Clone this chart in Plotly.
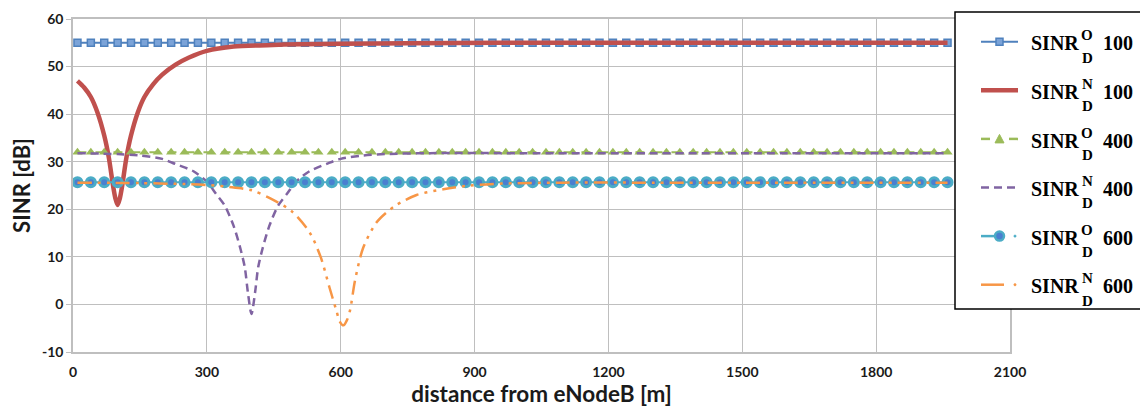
import plotly.graph_objects as go

# ---------------- data ----------------
X_MARK = list(range(10, 1961, 30))          # marker positions of the "O" series
SINR_O_100 = [55.0] * len(X_MARK)
SINR_O_400 = [32.0] * len(X_MARK)
SINR_O_600 = [25.7] * len(X_MARK)

X_N100 = [10, 25, 40, 55, 70, 80, 90, 95, 100, 105, 110, 120, 130, 145, 160, 180, 200,
          230, 260, 300, 360, 435, 510, 600, 750, 950, 1200, 1500, 1960]
SINR_N_100 = [47.0, 45.6, 43.6, 40.3, 35.5, 31.0, 24.8, 22.3, 20.9, 22.3, 24.8, 31.0, 35.5,
              40.3, 43.6, 46.3, 48.3, 50.4, 51.9, 53.3, 54.2, 54.5, 54.7, 54.8, 54.9, 55.0,
              55.0, 55.0, 55.0]

X_N400 = [10, 100, 150, 200, 230, 270, 300, 320, 340, 360, 375, 385, 392, 400, 408, 415,
          425, 440, 460, 480, 500, 530, 570, 600, 650, 700, 800, 1000, 1300, 1600, 1960]
SINR_N_400 = [31.8, 31.6, 31.3, 30.6, 29.5, 28.0, 25.8, 23.3, 20.8, 16.5, 11.8, 7.8, 2.5,
              -2.0, 2.5, 7.8, 11.8, 16.5, 20.8, 23.3, 25.8, 28.0, 29.6, 30.6, 31.3, 31.6,
              31.8, 31.8, 31.8, 31.8, 31.8]

X_N600 = [10, 150, 250, 300, 350, 400, 440, 490, 530, 555, 575, 590, 598, 606, 614, 621,
          632, 650, 680, 720, 770, 830, 890, 960, 1100, 1300, 1600, 1960]
SINR_N_600 = [25.6, 25.5, 25.3, 25.1, 24.7, 24.0, 22.4, 19.6, 15.2, 10.0, 3.5, -1.2, -3.6,
              -4.4, -3.3, -1.2, 5.0, 11.8, 17.2, 20.6, 23.0, 24.2, 25.0, 25.4, 25.6, 25.6,
              25.6, 25.6]

X_TICKS = [0, 300, 600, 900, 1200, 1500, 1800, 2100]
Y_TICKS = [-10, 0, 10, 20, 30, 40, 50, 60]
Y_TICK_TEXT = ["-10", "0", "10", "20", "30", "40", "50", "60"]

LEGEND_SUP = ["O", "N", "O", "N", "O", "N"]
LEGEND_DIST = ["100", "100", "400", "400", "600", "600"]

# ---------------- styles ----------------
BLUE = "#4F81BD"
RED = "#C0504D"
GREEN = "#9BBB59"
PURPLE = "#8064A2"
TEAL = "#4BACC6"
ORANGE = "#F79646"
GRID = "#BFBFBF"
ORANGE_DASH = "14px,6px,3px,6px,3px,6px"

fig = go.Figure()
fig.add_trace(go.Scatter(x=X_MARK, y=SINR_O_100, mode="lines+markers",
                         line=dict(color=BLUE, width=2),
                         marker=dict(symbol="square", size=7, color="#7BA3D8",
                                     line=dict(color=BLUE, width=1.5))))
fig.add_trace(go.Scatter(x=X_N100, y=SINR_N_100, mode="lines",
                         line=dict(color=RED, width=4.5, shape="spline", smoothing=0.8)))
fig.add_trace(go.Scatter(x=X_MARK, y=SINR_O_400, mode="lines+markers",
                         line=dict(color=GREEN, width=2, dash="dash"),
                         marker=dict(symbol="triangle-up", size=9, color=GREEN)))
fig.add_trace(go.Scatter(x=X_N400, y=SINR_N_400, mode="lines",
                         line=dict(color=PURPLE, width=2.5, dash="8px,5px",
                                   shape="spline", smoothing=0.8)))
fig.add_trace(go.Scatter(x=X_MARK, y=SINR_O_600, mode="lines+markers",
                         line=dict(color=TEAL, width=2),
                         marker=dict(symbol="circle", size=9, color="#4A7FD0",
                                     line=dict(color=TEAL, width=3))))
fig.add_trace(go.Scatter(x=X_N600, y=SINR_N_600, mode="lines",
                         line=dict(color=ORANGE, width=2.5, dash=ORANGE_DASH,
                                   shape="spline", smoothing=0.8)))
for tr in fig.data:
    tr.showlegend = False

# ---------------- layout geometry (pixels) ----------------
L, R, T, B = 73, 1010, 19, 352
W, H = R - L, B - T


def PX(p):
    return (p - L) / W


def PY(p):
    return (B - p) / H


TICKFONT = dict(family="Lato", size=14, color="#1a1a1a", weight="bold")

fig.update_layout(
    width=1140, height=407,
    margin=dict(l=L, r=1140 - R, t=T, b=407 - B),
    paper_bgcolor="white", plot_bgcolor="white",
    showlegend=False,
    xaxis=dict(range=[0, 2100], tickvals=X_TICKS, showgrid=True, gridcolor=GRID, gridwidth=1,
               showline=True, linecolor=GRID, linewidth=1.5, mirror=True, zeroline=False,
               ticks="", ticklabelstandoff=6, tickfont=TICKFONT, automargin=False,
               title=dict(text="distance from eNodeB [m]", standoff=16,
                          font=dict(family="Lato", size=22.5, color="#1a1a1a", weight="bold"))),
    yaxis=dict(range=[-10, 60], tickvals=Y_TICKS, ticktext=Y_TICK_TEXT,
               showgrid=True, gridcolor=GRID, gridwidth=1,
               showline=True, linecolor=GRID, linewidth=1.5, mirror=True, zeroline=False,
               ticks="outside", ticklen=5, tickcolor=GRID, tickfont=TICKFONT, automargin=False,
               title=dict(text="SINR [dB]", standoff=5,
                          font=dict(family="Lato", size=22, color="#1a1a1a", weight="bold"))),
)

# ---------------- custom legend ----------------
shapes = []
annotations = []
shapes.append(dict(type="rect", xref="paper", yref="paper", layer="above",
                   x0=PX(955), x1=PX(1160), y0=PY(309), y1=PY(12),
                   fillcolor="white", line=dict(color="black", width=1.5)))

ROW_Y = [41.7, 90.3, 138.9, 187.5, 236.1, 284.7]
LX0, LX1, LXC = 981, 1018, 999.5


def hline(x0, x1, y, color, width, dash="solid"):
    shapes.append(dict(type="line", xref="paper", yref="paper", layer="above",
                       x0=PX(x0), x1=PX(x1), y0=PY(y), y1=PY(y),
                       line=dict(color=color, width=width, dash=dash)))


def circle(xc, yc, r, fill, lc, lw):
    shapes.append(dict(type="circle", xref="paper", yref="paper", layer="above",
                       x0=PX(xc - r), x1=PX(xc + r), y0=PY(yc + r), y1=PY(yc - r),
                       fillcolor=fill, line=dict(color=lc, width=lw)))


# row 1: blue squares
y = ROW_Y[0]
hline(LX0, LX1, y, BLUE, 2)
shapes.append(dict(type="rect", xref="paper", yref="paper", layer="above",
                   x0=PX(LXC - 3.5), x1=PX(LXC + 3.5), y0=PY(y + 3.5), y1=PY(y - 3.5),
                   fillcolor="#7BA3D8", line=dict(color=BLUE, width=1.5)))
# row 2: red
hline(LX0, LX1, ROW_Y[1], RED, 4.5)
# row 3: green dashed + triangle
y = ROW_Y[2]
hline(LX0, 990, y, GREEN, 2.5)
hline(1009, LX1, y, GREEN, 2.5)
shapes.append(dict(type="path", xref="paper", yref="paper", layer="above",
                   path=f"M {PX(LXC - 4.5)},{PY(y + 4)} L {PX(LXC + 4.5)},{PY(y + 4)} "
                        f"L {PX(LXC)},{PY(y - 4.5)} Z",
                   fillcolor=GREEN, line=dict(color=GREEN, width=1)))
# row 4: purple dashed
hline(LX0, LX1, ROW_Y[3], PURPLE, 2.5, "8px,5px")
# row 5: teal line + circle + dot
y = ROW_Y[4]
hline(LX0, 1003, y, TEAL, 2.5)
circle(LXC, y, 4.5, "#4A7FD0", TEAL, 2.5)
circle(1015, y, 1.2, TEAL, TEAL, 0.5)
# row 6: orange dash + dot
y = ROW_Y[5]
hline(LX0, 1004, y, ORANGE, 2.5)
circle(1015, y, 1.2, ORANGE, ORANGE, 0.5)

SERIF = "Liberation Serif"
for i, yc in enumerate(ROW_Y):
    annotations.append(dict(xref="paper", yref="paper", x=PX(1029), y=PY(yc + 1.6),
                            xanchor="left", yanchor="middle", showarrow=False,
                            text="SINR",
                            font=dict(family=SERIF, size=20, color="black", weight="bold")))
    annotations.append(dict(xref="paper", yref="paper", x=PX(1087), y=PY(yc - 6.4),
                            xanchor="center", yanchor="middle", showarrow=False,
                            text=LEGEND_SUP[i],
                            font=dict(family=SERIF, size=15, color="black", weight="bold")))
    annotations.append(dict(xref="paper", yref="paper", x=PX(1087), y=PY(yc + 15.8),
                            xanchor="center", yanchor="middle", showarrow=False,
                            text="D",
                            font=dict(family=SERIF, size=15, color="black", weight="bold")))
    annotations.append(dict(xref="paper", yref="paper", x=PX(1101), y=PY(yc + 1.6),
                            xanchor="left", yanchor="middle", showarrow=False,
                            text=LEGEND_DIST[i],
                            font=dict(family=SERIF, size=20, color="black", weight="bold")))

fig.update_layout(shapes=shapes, annotations=annotations)

fig.write_html("out.html")
